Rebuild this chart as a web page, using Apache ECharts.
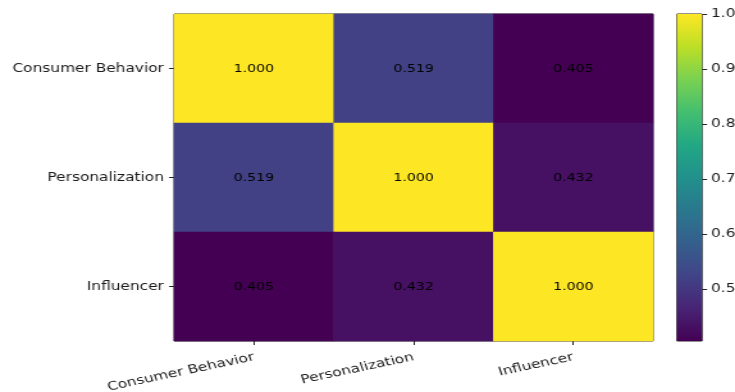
<!DOCTYPE html>
<html>
<head>
<meta charset="utf-8">
<script src="https://cdn.jsdelivr.net/npm/echarts@6/dist/echarts.min.js"></script>
<style>
  html, body { margin: 0; padding: 0; background: #fff; overflow: hidden; }
  /* the figure is laid out narrower and widened horizontally */
  #chart { width: 574px; height: 392px; transform: scaleX(1.2805); transform-origin: 0 0; }
</style>
</head>
<body>
<div id="chart"></div>
<script>
// Correlation matrix between the three topics
const topics = ['Consumer Behavior', 'Personalization', 'Influencer'];
const rowConsumerBehavior = [1.000, 0.519, 0.405];
const rowPersonalization  = [0.519, 1.000, 0.432];
const rowInfluencer       = [0.405, 0.432, 1.000];
const colorbarTicks = [0.5, 0.6, 0.7, 0.8, 0.9, 1.0];

const rows = [rowConsumerBehavior, rowPersonalization, rowInfluencer];

// viridis colour ramp
const viridis = ['#440154', '#482475', '#414487', '#355f8d', '#2a788e', '#21918c',
                 '#22a884', '#44bf70', '#7ad151', '#bddf26', '#fde725'];

const cells = [];
rows.forEach((row, r) => row.forEach((v, c) => cells.push([c, r, v])));
const allValues = rows.flat();
const vMin = Math.min(...allValues);
const vMax = Math.max(...allValues);

const font = 'DejaVu Sans';
const textColor = '#1a1a1a';

const chart = echarts.init(document.getElementById('chart'));
chart.setOption({
  backgroundColor: '#fff',
  animation: false,
  grid: [
    { left: 136, right: 64, top: 14, bottom: 51, outerBoundsMode: 'none', containLabel: false,
      show: true, borderColor: '#222', borderWidth: 1, backgroundColor: 'transparent' },
    { left: 528.7, width: 19.5, top: 14, bottom: 51, outerBoundsMode: 'none', containLabel: false,
      show: true, borderColor: '#222', borderWidth: 1, backgroundColor: 'transparent' }
  ],
  xAxis: [
    {
      type: 'category', gridIndex: 0, data: topics,
      axisLine: { show: false },
      axisTick: { show: true, alignWithLabel: true, length: 4, lineStyle: { color: '#222' } },
      axisLabel: { rotate: 15, margin: 16, fontFamily: font, fontSize: 12, color: textColor },
      splitLine: { show: false }
    },
    {
      type: 'category', gridIndex: 1, data: ['scale'],
      show: false
    }
  ],
  yAxis: [
    {
      type: 'category', gridIndex: 0, data: topics, inverse: true,
      axisLine: { show: false },
      axisTick: { show: true, alignWithLabel: true, length: 4, lineStyle: { color: '#222' } },
      axisLabel: { margin: 8, fontFamily: font, fontSize: 12, color: textColor },
      splitLine: { show: false }
    },
    {
      type: 'value', gridIndex: 1, position: 'right', min: vMin, max: vMax,
      axisLine: { show: false },
      splitLine: { show: false },
      axisTick: { show: true, length: 4, customValues: colorbarTicks, lineStyle: { color: '#222' } },
      axisLabel: {
        margin: 7, fontFamily: font, fontSize: 12, color: textColor,
        customValues: colorbarTicks,
        formatter: v => v.toFixed(1)
      }
    }
  ],
  visualMap: {
    show: false, seriesIndex: 0, min: vMin, max: vMax, dimension: 2,
    inRange: { color: viridis }
  },
  series: [
    {
      type: 'heatmap', xAxisIndex: 0, yAxisIndex: 0, data: cells,
      label: {
        show: true, fontFamily: font, fontSize: 11, color: '#000',
        offset: [0, 1],
        formatter: p => p.value[2].toFixed(3)
      },
      itemStyle: { borderWidth: 0 },
      emphasis: { disabled: true }
    },
    {
      // colour bar: one rectangle spanning the value range, filled with the ramp
      type: 'custom', xAxisIndex: 1, yAxisIndex: 1,
      data: [[0, vMin, vMax]],
      silent: true,
      renderItem: (params, api) => {
        const lo = api.coord([api.value(0), api.value(1)]);
        const hi = api.coord([api.value(0), api.value(2)]);
        const w = api.size([1, 0])[0];
        const stops = viridis.map((c, i) => ({ offset: 1 - i / (viridis.length - 1), color: c }));
        return {
          type: 'rect',
          shape: { x: lo[0] - w / 2, y: hi[1], width: w, height: lo[1] - hi[1] },
          style: { fill: new echarts.graphic.LinearGradient(0, 0, 0, 1, stops) }
        };
      }
    }
  ]
});
</script>
</body>
</html>
